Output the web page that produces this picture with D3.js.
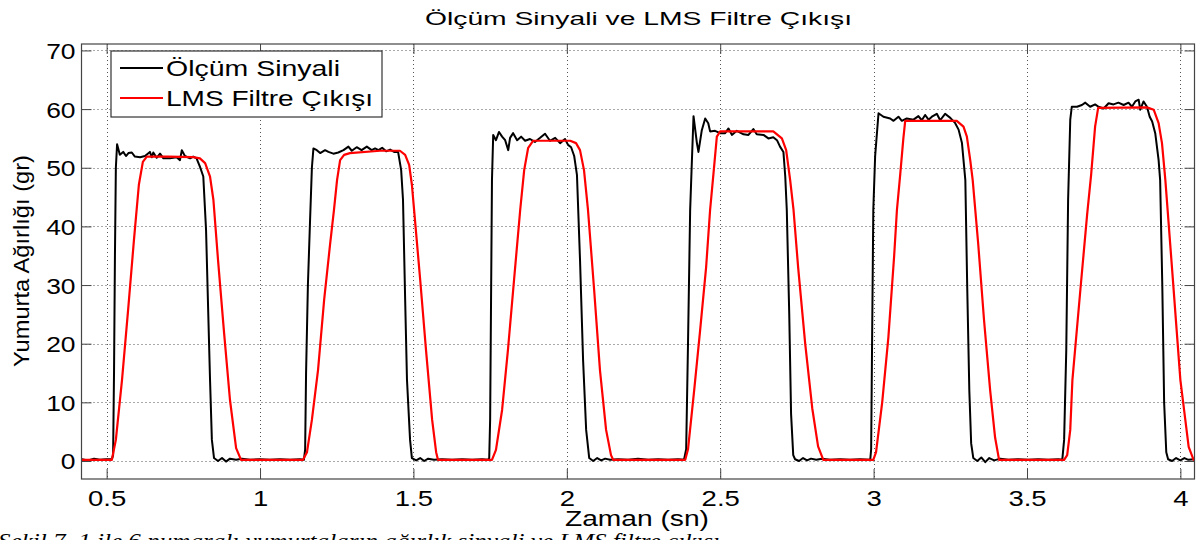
<!DOCTYPE html>
<html>
<head>
<meta charset="utf-8">
<script src="https://cdn.jsdelivr.net/npm/d3@7"></script>
<style>
  body { margin: 0; background: #fff; }
  svg { display: block; font-family: "Liberation Sans", Arial, sans-serif; }
</style>
</head>
<body>
<svg id="chart" width="1200" height="540"></svg>
<script>
// values: [zaman (sn), agirlik (gr)]
const olcumSinyali = [
  [0.419,0.3],[0.439,0.1],[0.459,0.4],[0.478,0.2],[0.498,0.3],[0.517,0.3],
  [0.521,1.0],[0.524,15],[0.527,35],[0.530,50],[0.534,54.0],
  [0.543,52.2],[0.554,52.7],[0.563,52.0],[0.571,52.5],[0.582,52.6],[0.592,51.9],[0.609,51.8],
  [0.625,52.0],[0.641,52.7],[0.647,51.8],[0.652,52.6],[0.663,51.7],[0.674,52.4],[0.685,51.6],
  [0.706,51.6],[0.728,51.8],[0.739,51.3],[0.745,53.0],[0.755,52.0],[0.772,51.6],[0.782,51.9],
  [0.793,51.6],[0.804,50.2],[0.815,48.5],[0.824,39.4],[0.830,27.5],[0.837,13.8],[0.843,3.6],[0.850,0.5],
  [0.863,0.0],[0.876,0.5],[0.889,-0.1],[0.902,0.4],[0.922,0.2],[0.941,0.4],[0.967,0.2],[0.999,0.3],
  [1.032,0.2],[1.065,0.3],[1.098,0.2],[1.130,0.3],[1.143,0.2],
  [1.147,2],[1.150,15],[1.156,30],[1.163,41],[1.169,50],[1.174,53.3],
  [1.185,53.0],[1.196,52.5],[1.212,53.0],[1.223,52.7],[1.239,52.4],[1.255,52.6],[1.272,53.0],
  [1.288,53.6],[1.299,52.9],[1.315,53.5],[1.331,53.0],[1.348,53.6],[1.364,53.0],[1.375,53.3],
  [1.386,53.0],[1.398,53.4],[1.411,52.8],[1.424,53.1],[1.437,52.7],[1.450,52.7],[1.460,49.6],
  [1.466,44.5],[1.473,27.5],[1.479,13.8],[1.489,3.6],[1.495,0.5],
  [1.509,0.1],[1.522,0.5],[1.535,0.0],[1.548,0.4],[1.567,0.2],[1.593,0.3],[1.626,0.2],[1.659,0.3],
  [1.691,0.2],[1.724,0.3],[1.743,0.2],
  [1.747,0.5],[1.750,7],[1.753,27.5],[1.756,47.9],[1.760,55.6],
  [1.769,54.7],[1.779,56.1],[1.789,55.3],[1.799,54.7],[1.809,53.0],[1.815,55.1],[1.825,55.9],
  [1.838,54.7],[1.851,55.3],[1.864,54.6],[1.880,54.9],[1.896,54.4],[1.913,55.1],[1.929,55.8],
  [1.945,54.6],[1.962,55.1],[1.978,54.2],[1.994,54.9],[2.004,53.9],[2.014,53.5],[2.024,52.0],
  [2.033,48.8],[2.043,34.3],[2.053,17.2],[2.063,5.3],[2.073,0.5],
  [2.086,0.0],[2.099,0.5],[2.112,0.1],[2.125,0.4],[2.141,0.2],[2.167,0.3],[2.200,0.2],[2.232,0.4],
  [2.265,0.2],[2.298,0.3],[2.330,0.2],[2.363,0.3],[2.382,0.2],
  [2.389,2],[2.395,20],[2.402,42.8],[2.407,50.2],[2.413,58.8],[2.424,54.2],[2.429,52.7],
  [2.440,56.4],[2.451,58.4],[2.461,57.6],[2.467,56.2],[2.483,56.3],[2.500,55.9],[2.516,55.9],
  [2.527,56.7],[2.538,55.6],[2.554,56.3],[2.576,55.7],[2.592,55.6],[2.608,56.6],[2.619,55.7],
  [2.641,55.6],[2.657,55.0],[2.673,55.2],[2.685,54.7],[2.695,53.6],[2.706,52.7],[2.712,48.5],
  [2.717,42.8],[2.725,25],[2.731,8],[2.738,1],[2.744,0.3],
  [2.757,0.0],[2.770,0.5],[2.783,0.1],[2.796,0.4],[2.813,0.2],[2.832,0.4],[2.858,0.2],[2.891,0.3],
  [2.923,0.2],[2.956,0.3],[2.989,0.2],
  [2.992,2],[2.995,20],[2.999,42.8],[3.005,52],[3.016,59.3],[3.032,58.7],[3.054,58.4],[3.065,58.0],
  [3.081,58.7],[3.092,58.0],[3.108,58.4],[3.130,58.2],[3.146,58.8],[3.157,58.1],[3.168,59.0],
  [3.179,58.2],[3.190,58.7],[3.206,59.2],[3.217,58.1],[3.233,59.2],[3.250,58.5],[3.266,57.6],
  [3.277,56.5],[3.288,54.2],[3.299,47.9],[3.305,30],[3.312,12],[3.318,3],[3.325,0.5],
  [3.338,0.0],[3.351,0.6],[3.364,-0.2],[3.377,0.5],[3.393,0.1],[3.413,0.4],[3.439,0.2],[3.471,0.3],
  [3.504,0.2],[3.537,0.3],[3.569,0.2],[3.602,0.3],[3.615,0.2],
  [3.621,3.6],[3.628,18.9],[3.634,44.5],[3.641,58.2],[3.646,60.4],[3.663,60.4],[3.679,60.7],
  [3.690,61.1],[3.706,60.4],[3.722,60.8],[3.733,60.4],[3.750,60.1],[3.766,61.0],[3.782,60.8],
  [3.798,61.1],[3.815,60.7],[3.831,61.1],[3.842,60.4],[3.853,61.3],[3.864,61.6],[3.869,59.9],
  [3.880,61.3],[3.891,60.4],[3.900,58.7],[3.908,57.9],[3.918,55.9],[3.929,51.3],[3.934,47.9],
  [3.941,30],[3.947,10],[3.954,1.5],[3.960,0.3],
  [3.973,0.0],[3.986,0.5],[4.000,0.1],[4.013,0.5],[4.026,0.2],[4.045,0.3]
]

const lmsCikisi = [
  [0.419,0.2],[0.514,0.2],
  [0.517,0.2],[0.530,3.6],[0.550,13.8],[0.570,25.8],[0.589,37.7],[0.605,47.1],[0.618,51.0],
  [0.631,51.9],[0.700,51.9],[0.782,51.8],[0.804,51.6],[0.821,50.8],[0.837,48.5],[0.848,44.5],
  [0.863,34.3],[0.882,22.3],[0.902,10.4],[0.922,2.2],[0.938,0.2],
  [1.140,0.2],
  [1.153,1.5],[1.169,7],[1.189,15.5],[1.209,27.5],[1.228,36.8],[1.241,42.8],[1.251,47.9],
  [1.261,51.3],[1.274,52.2],[1.293,52.5],[1.391,52.9],[1.456,52.9],[1.473,52.2],[1.486,50.5],
  [1.495,47.1],[1.505,41.1],[1.522,30.9],[1.541,18.9],[1.561,7.0],[1.574,1.5],[1.580,0.2],
  [1.756,0.2],
  [1.769,1.9],[1.789,8.7],[1.808,18.9],[1.828,30.9],[1.848,42.8],[1.861,49.6],[1.874,53.4],
  [1.890,54.6],[2.011,54.6],[2.030,54.2],[2.043,53.0],[2.056,49.6],[2.069,42.8],[2.089,29.2],
  [2.108,15.5],[2.128,5.3],[2.144,1.0],[2.151,0.2],
  [2.386,0.2],
  [2.395,2],[2.415,12],[2.434,22],[2.454,33],[2.467,42.8],[2.478,49.0],[2.489,55.3],[2.500,56.2],
  [2.673,56.2],[2.701,55.0],[2.715,53.0],[2.728,47.9],[2.739,42.8],[2.754,33],[2.777,20],
  [2.800,9],[2.819,2.5],[2.836,0.2],
  [2.999,0.2],
  [3.008,1.5],[3.028,10],[3.048,21],[3.067,35],[3.076,42.8],[3.087,49.0],[3.097,55],[3.103,58.0],
  [3.271,58.0],[3.293,57.0],[3.304,55.3],[3.315,51.3],[3.323,47.9],[3.341,37],[3.360,24],
  [3.380,12],[3.396,4],[3.409,0.2],
  [3.621,0.2],
  [3.631,1],[3.641,5.3],[3.648,13.8],[3.674,29.2],[3.696,42.0],[3.709,48.8],[3.722,57.0],
  [3.732,60.2],[3.891,60.3],[3.913,59.9],[3.929,57.6],[3.940,54.2],[3.951,47.9],[3.974,32],
  [4.000,13.8],[4.027,2.4],[4.043,0.2],[4.045,0.2]
]

const xTicks = [0.5, 1, 1.5, 2, 2.5, 3, 3.5, 4]
const xTickLabels = ["0.5", "1", "1.5", "2", "2.5", "3", "3.5", "4"]
const yTicks = [0, 10, 20, 30, 40, 50, 60, 70]
const legendLabels = ["Ölçüm Sinyali", "LMS Filtre Çıkışı"]
const seriesColors = ["#000000", "#ff0000"]

const xDomain = [0.418, 4.046]
const yDomain = [-3.07, 71.1]

const plotLeft = 81.5, plotRight = 1194.5, plotTop = 44, plotBottom = 479

const svg = d3.select("svg#chart")

const x = d3.scaleLinear().domain(xDomain).range([plotLeft, plotRight])
const y = d3.scaleLinear().domain(yDomain).range([plotBottom, plotTop])

// dotted grid
const grid = svg.append("g")
    .attr("stroke", "#555")
    .attr("stroke-width", 1)
    .attr("stroke-dasharray", "1,3")
grid.selectAll("line.gx")
  .data(xTicks)
  .join("line")
    .attr("class", "gx")
    .attr("x1", d => Math.round(x(d)) + 0.5)
    .attr("x2", d => Math.round(x(d)) + 0.5)
    .attr("y1", plotTop)
    .attr("y2", plotBottom)
grid.selectAll("line.gy")
  .data(yTicks)
  .join("line")
    .attr("class", "gy")
    .attr("x1", plotLeft)
    .attr("x2", plotRight)
    .attr("y1", d => Math.round(y(d)) + 0.5)
    .attr("y2", d => Math.round(y(d)) + 0.5)

// lines
const line = d3.line()
  .x(d => x(d[0]))
  .y(d => y(d[1]))

svg.append("path")
  .datum(olcumSinyali)
  .attr("fill", "none")
  .attr("stroke", seriesColors[0])
  .attr("stroke-width", 2)
  .attr("stroke-linejoin", "round")
  .attr("d", line)

svg.append("path")
  .datum(lmsCikisi)
  .attr("fill", "none")
  .attr("stroke", seriesColors[1])
  .attr("stroke-width", 2.2)
  .attr("stroke-linejoin", "round")
  .attr("d", line)

// axes, ticks pointing inward on all four sides
const axisColor = "#444"
const styleAxis = g => {
  g.select(".domain").remove()
  g.selectAll(".tick line").attr("stroke", axisColor)
}

const gx = svg.append("g")
  .attr("transform", `translate(0,${plotBottom})`)
  .call(d3.axisBottom(x).tickValues(xTicks).tickFormat((d, i) => xTickLabels[i]).tickSize(-10))
  .call(styleAxis)
gx.selectAll("text")
  .attr("y", null).attr("dy", null)
  .attr("transform", "translate(0,27) scale(1.25,1)")
  .attr("font-size", 22)
  .attr("font-family", "Liberation Sans, Arial, sans-serif")
  .attr("fill", "#000")

const gy = svg.append("g")
  .attr("transform", `translate(${plotLeft},0)`)
  .call(d3.axisLeft(y).tickValues(yTicks).tickSize(-10))
  .call(styleAxis)
gy.selectAll("text")
  .attr("x", null).attr("dy", null)
  .attr("transform", "translate(-6,8) scale(1.2,1)")
  .attr("font-size", 22)
  .attr("font-family", "Liberation Sans, Arial, sans-serif")
  .attr("fill", "#000")

svg.append("g")
  .attr("transform", `translate(0,${plotTop})`)
  .call(d3.axisTop(x).tickValues(xTicks).tickFormat("").tickSize(-10))
  .call(styleAxis)

svg.append("g")
  .attr("transform", `translate(${plotRight},0)`)
  .call(d3.axisRight(y).tickValues(yTicks).tickFormat("").tickSize(-10))
  .call(styleAxis)

// box
svg.append("rect")
  .attr("x", plotLeft).attr("y", plotTop)
  .attr("width", plotRight - plotLeft).attr("height", plotBottom - plotTop)
  .attr("fill", "none")
  .attr("stroke", axisColor)
  .attr("stroke-width", 1.2)

// legend
const legend = svg.append("g")
legend.append("rect")
  .attr("x", 111).attr("y", 51)
  .attr("width", 271).attr("height", 66)
  .attr("fill", "#fff")
  .attr("stroke", "#333")
  .attr("stroke-width", 1.2)
const legendWidths = [174, 207]
legend.selectAll("g.item")
  .data(legendLabels)
  .join("g")
    .attr("class", "item")
    .attr("transform", (d, i) => `translate(0,${68 + i * 30})`)
    .each(function (d, i) {
      const g = d3.select(this)
      g.append("line")
        .attr("x1", 120).attr("x2", 163)
        .attr("stroke", seriesColors[i])
        .attr("stroke-width", i ? 2.2 : 2)
      g.append("text")
        .attr("x", 166).attr("y", 8)
        .attr("font-size", 22)
        .attr("textLength", legendWidths[i])
        .attr("lengthAdjust", "spacingAndGlyphs")
        .text(d)
    })

// title and axis labels
svg.append("text")
  .attr("x", 425).attr("y", 25)
  .attr("font-size", 17.5)
  .attr("textLength", 427)
  .attr("lengthAdjust", "spacingAndGlyphs")
  .text("Ölçüm Sinyali ve LMS Filtre Çıkışı")

svg.append("text")
  .attr("x", 565).attr("y", 526)
  .attr("font-size", 22)
  .attr("textLength", 144)
  .attr("lengthAdjust", "spacingAndGlyphs")
  .text("Zaman (sn)")

svg.append("text")
  .attr("transform", "translate(29,261) rotate(-90)")
  .attr("text-anchor", "middle")
  .attr("font-size", 22)
  .attr("textLength", 212)
  .attr("lengthAdjust", "spacingAndGlyphs")
  .text("Yumurta Ağırlığı (gr)")

// caption from the page, cut off at the bottom edge as in the picture
svg.append("text")
  .attr("x", -2).attr("y", 548)
  .attr("font-family", "Liberation Serif, Times New Roman, serif")
  .attr("font-style", "italic")
  .attr("font-size", 22)
  .attr("textLength", 722)
  .attr("lengthAdjust", "spacingAndGlyphs")
  .text("Şekil 7. 1 ile 6 numaralı yumurtaların ağırlık sinyali ve LMS filtre çıkışı")
</script>
</body>
</html>
